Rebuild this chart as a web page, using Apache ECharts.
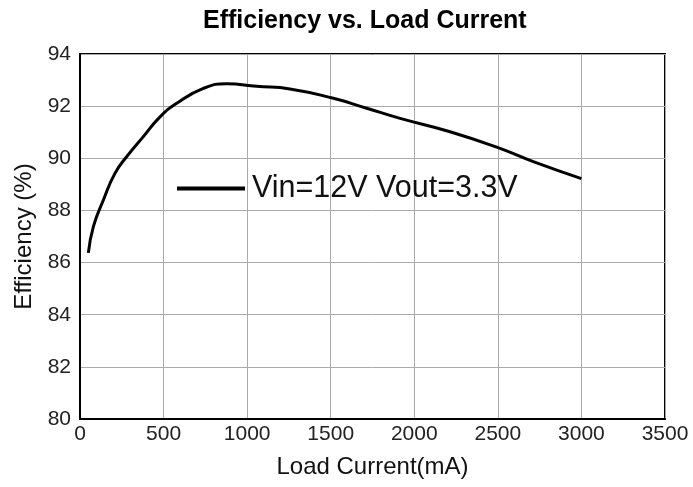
<!DOCTYPE html>
<html>
<head>
<meta charset="utf-8">
<script src="https://cdn.jsdelivr.net/npm/echarts@6/dist/echarts.min.js"></script>
<style>
  html, body { margin: 0; padding: 0; background: #fff; }
  #chart { width: 693px; height: 487px; }
</style>
</head>
<body>
<div id="chart"></div>
<script>
// load current (mA) and efficiency (%)
const loadCurrent = [50, 80, 140, 209, 279, 379, 479, 579, 738, 878, 1057, 1256, 1516, 1715, 1915, 2214, 2513, 2712, 3000];
const efficiency = [86.37, 87.38, 88.4, 89.42, 90.06, 90.83, 91.59, 92.11, 92.68, 92.86, 92.76, 92.66, 92.3, 91.92, 91.53, 91.02, 90.38, 89.87, 89.22];
const seriesName = 'Vin=12V Vout=3.3V';

const chart = echarts.init(document.getElementById('chart'));
const font = 'Liberation Sans, Arial, sans-serif';

const option = {
  animation: false,
  title: {
    text: 'Efficiency vs. Load Current',
    left: 198,
    top: 4,
    textStyle: { fontFamily: font, fontSize: 25, fontWeight: 'bold', color: '#000' }
  },
  legend: {
    left: 172,
    top: 168,
    icon: 'rect',
    itemWidth: 68,
    itemHeight: 4,
    itemGap: 0,
    textStyle: { fontFamily: font, fontSize: 30.5, color: '#111', padding: [0, 0, 0, 2] },
    data: [seriesName]
  },
  grid: {
    left: 80,
    top: 54,
    right: 28,
    bottom: 68,
    show: true,
    borderColor: '#000',
    borderWidth: 2
  },
  xAxis: {
    type: 'value',
    min: 0,
    max: 3500,
    interval: 500,
    name: 'Load Current(mA)',
    nameLocation: 'middle',
    nameGap: 36,
    nameTextStyle: { fontFamily: font, fontSize: 24, color: '#111' },
    axisLine: { show: true, lineStyle: { color: '#000', width: 2 } },
    axisTick: { show: false },
    axisLabel: { fontFamily: font, fontSize: 21, color: '#222', margin: 5, formatter: v => String(v) },
    splitLine: { show: true, lineStyle: { color: '#aaa', width: 1 } }
  },
  yAxis: {
    type: 'value',
    min: 80,
    max: 94,
    interval: 2,
    name: 'Efficiency (%)',
    nameLocation: 'middle',
    nameGap: 44,
    nameTextStyle: { fontFamily: font, fontSize: 24, color: '#111' },
    axisLine: { show: true, lineStyle: { color: '#000', width: 2 } },
    axisTick: { show: false },
    axisLabel: { fontFamily: font, fontSize: 21, color: '#222', margin: 9 },
    splitLine: { show: true, lineStyle: { color: '#aaa', width: 1 } }
  },
  series: [{
    name: seriesName,
    type: 'line',
    smooth: true,
    showSymbol: false,
    lineStyle: { color: '#000', width: 3 },
    itemStyle: { color: '#000' },
    data: loadCurrent.map((x, i) => [x, efficiency[i]])
  }]
};

chart.setOption(option);
</script>
</body>
</html>
